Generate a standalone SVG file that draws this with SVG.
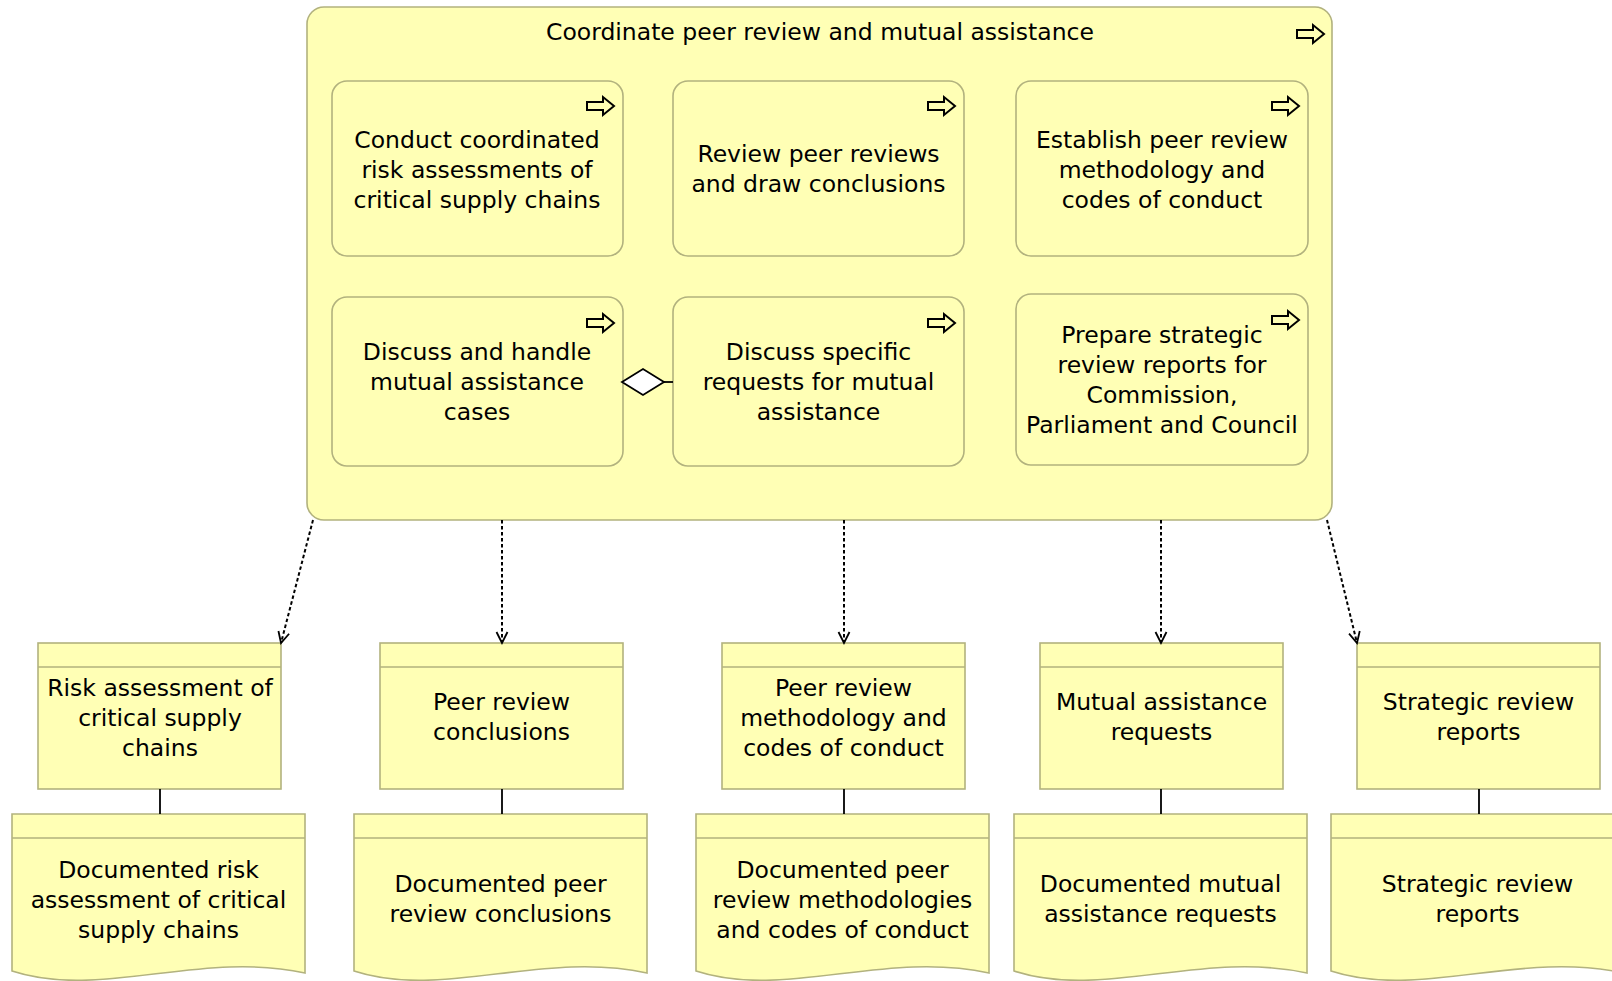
<svg xmlns="http://www.w3.org/2000/svg" xmlns:xlink="http://www.w3.org/1999/xlink" width="1612" height="981" viewBox="0 0 1612 981">
<style>
.box{fill:#ffffb5;stroke:#b2b27e;stroke-width:1.6}
.t{font-family:"DejaVu Sans","Liberation Sans",sans-serif;font-size:23.5px;fill:#000;text-anchor:middle}
.icon{fill:none;stroke:#000;stroke-width:2;stroke-linejoin:miter}
.dep{fill:none;stroke:#000;stroke-width:2;stroke-dasharray:3.5 2.5}
.line{fill:none;stroke:#000;stroke-width:1.8}
</style>
<defs>
<path id="proc" class="icon" d="M0,5 H16 V0 L27,9 L16,18 V13 H0 Z"/>
<marker id="open" viewBox="-12 -7 14 14" refX="0" refY="0" markerWidth="14" markerHeight="14" markerUnits="userSpaceOnUse" orient="auto">
<path d="M-11,-5.5 L0,0 L-11,5.5" fill="none" stroke="#000" stroke-width="1.8"/>
</marker>
</defs>

<g id="outer">
<rect class="box" x="307" y="7" width="1025" height="513" rx="17"/>
<text class="t" x="820" y="40">Coordinate peer review and mutual assistance</text>
<use xlink:href="#proc" x="1297" y="25"/>
</g>

<g id="p1">
<rect class="box" x="332" y="81" width="291" height="175" rx="15"/>
<use xlink:href="#proc" x="587" y="97"/>
<text class="t" x="477" y="148">Conduct coordinated</text>
<text class="t" x="477" y="178">risk assessments of</text>
<text class="t" x="477" y="208">critical supply chains</text>
</g>
<g id="p2">
<rect class="box" x="673" y="81" width="291" height="175" rx="15"/>
<use xlink:href="#proc" x="928" y="97"/>
<text class="t" x="818.5" y="162">Review peer reviews</text>
<text class="t" x="818.5" y="192">and draw conclusions</text>
</g>
<g id="p3">
<rect class="box" x="1016" y="81" width="292" height="175" rx="15"/>
<use xlink:href="#proc" x="1272" y="97"/>
<text class="t" x="1162" y="148">Establish peer review</text>
<text class="t" x="1162" y="178">methodology and</text>
<text class="t" x="1162" y="208">codes of conduct</text>
</g>
<g id="p4">
<rect class="box" x="332" y="297" width="291" height="169" rx="15"/>
<use xlink:href="#proc" x="587" y="314"/>
<text class="t" x="477" y="360">Discuss and handle</text>
<text class="t" x="477" y="390">mutual assistance</text>
<text class="t" x="477" y="420">cases</text>
</g>
<g id="p5">
<rect class="box" x="673" y="297" width="291" height="169" rx="15"/>
<use xlink:href="#proc" x="928" y="314"/>
<text class="t" x="818.5" y="360">Discuss specific</text>
<text class="t" x="818.5" y="390">requests for mutual</text>
<text class="t" x="818.5" y="420">assistance</text>
</g>
<g id="p6">
<rect class="box" x="1016" y="294" width="292" height="171" rx="15"/>
<use xlink:href="#proc" x="1272" y="311"/>
<text class="t" x="1162" y="343">Prepare strategic</text>
<text class="t" x="1162" y="373">review reports for</text>
<text class="t" x="1162" y="403">Commission,</text>
<text class="t" x="1162" y="433">Parliament and Council</text>
</g>

<g id="o1">
<rect class="box" x="38" y="643" width="243" height="146"/>
<line class="box" x1="38" y1="667" x2="281" y2="667"/>
<text class="t" x="160" y="696">Risk assessment of</text>
<text class="t" x="160" y="726">critical supply</text>
<text class="t" x="160" y="756">chains</text>
</g>
<g id="o2">
<rect class="box" x="380" y="643" width="243" height="146"/>
<line class="box" x1="380" y1="667" x2="623" y2="667"/>
<text class="t" x="501.5" y="710">Peer review</text>
<text class="t" x="501.5" y="740">conclusions</text>
</g>
<g id="o3">
<rect class="box" x="722" y="643" width="243" height="146"/>
<line class="box" x1="722" y1="667" x2="965" y2="667"/>
<text class="t" x="843.5" y="696">Peer review</text>
<text class="t" x="843.5" y="726">methodology and</text>
<text class="t" x="843.5" y="756">codes of conduct</text>
</g>
<g id="o4">
<rect class="box" x="1040" y="643" width="243" height="146"/>
<line class="box" x1="1040" y1="667" x2="1283" y2="667"/>
<text class="t" x="1161.5" y="710">Mutual assistance</text>
<text class="t" x="1161.5" y="740">requests</text>
</g>
<g id="o5">
<rect class="box" x="1357" y="643" width="243" height="146"/>
<line class="box" x1="1357" y1="667" x2="1600" y2="667"/>
<text class="t" x="1478.5" y="710">Strategic review</text>
<text class="t" x="1478.5" y="740">reports</text>
</g>

<g id="d1">
<path class="box" d="M12,814 H305 V973 C200,950 100,1000 12,971 Z"/>
<line class="box" x1="12" y1="838" x2="305" y2="838"/>
<text class="t" x="158.5" y="878">Documented risk</text>
<text class="t" x="158.5" y="908">assessment of critical</text>
<text class="t" x="158.5" y="938">supply chains</text>
</g>
<g id="d2">
<path class="box" d="M354,814 H647 V973 C542,950 442,1000 354,971 Z"/>
<line class="box" x1="354" y1="838" x2="647" y2="838"/>
<text class="t" x="500.5" y="892">Documented peer</text>
<text class="t" x="500.5" y="922">review conclusions</text>
</g>
<g id="d3">
<path class="box" d="M696,814 H989 V973 C884,950 784,1000 696,971 Z"/>
<line class="box" x1="696" y1="838" x2="989" y2="838"/>
<text class="t" x="842.5" y="878">Documented peer</text>
<text class="t" x="842.5" y="908">review methodologies</text>
<text class="t" x="842.5" y="938">and codes of conduct</text>
</g>
<g id="d4">
<path class="box" d="M1014,814 H1307 V973 C1202,950 1102,1000 1014,971 Z"/>
<line class="box" x1="1014" y1="838" x2="1307" y2="838"/>
<text class="t" x="1160.5" y="892">Documented mutual</text>
<text class="t" x="1160.5" y="922">assistance requests</text>
</g>
<g id="d5">
<path class="box" d="M1331,814 H1624 V973 C1519,950 1419,1000 1331,971 Z"/>
<line class="box" x1="1331" y1="838" x2="1624" y2="838"/>
<text class="t" x="1477.5" y="892">Strategic review</text>
<text class="t" x="1477.5" y="922">reports</text>
</g>

<g id="connectors">
<path d="M622,382 L643,369 L664,382 L643,395 Z" fill="#fff" stroke="#000" stroke-width="1.8"/>
<line class="line" x1="664" y1="382" x2="673" y2="382"/>
<line class="dep" x1="313" y1="520" x2="281" y2="643" marker-end="url(#open)"/>
<line class="dep" x1="502" y1="520" x2="502" y2="643" marker-end="url(#open)"/>
<line class="dep" x1="844" y1="520" x2="844" y2="643" marker-end="url(#open)"/>
<line class="dep" x1="1161" y1="520" x2="1161" y2="643" marker-end="url(#open)"/>
<line class="dep" x1="1327" y1="520" x2="1357" y2="643" marker-end="url(#open)"/>
<line class="line" x1="160" y1="789" x2="160" y2="814"/>
<line class="line" x1="502" y1="789" x2="502" y2="814"/>
<line class="line" x1="844" y1="789" x2="844" y2="814"/>
<line class="line" x1="1161" y1="789" x2="1161" y2="814"/>
<line class="line" x1="1479" y1="789" x2="1479" y2="814"/>
</g>
</svg>
